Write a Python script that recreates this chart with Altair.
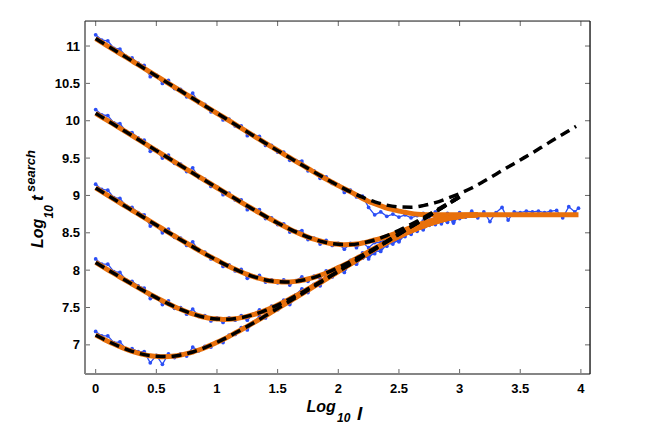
import altair as alt
import pandas as pd

# ---------------- data ----------------
GRID = [0.0, 0.05, 0.1, 0.15, 0.2, 0.25, 0.3, 0.35, 0.4, 0.45,
        0.5, 0.55, 0.6, 0.65, 0.7, 0.75, 0.8, 0.85, 0.9, 0.95,
        1.0, 1.05, 1.1, 1.15, 1.2, 1.25, 1.3, 1.35, 1.4, 1.45,
        1.5, 1.55, 1.6, 1.65, 1.7, 1.75, 1.8, 1.85, 1.9, 1.95,
        2.0, 2.05, 2.1, 2.15, 2.2, 2.25, 2.3, 2.35, 2.4, 2.45,
        2.5, 2.55, 2.6, 2.65, 2.7, 2.75, 2.8, 2.85, 2.9, 2.95,
        3.0, 3.05, 3.1, 3.15, 3.2, 3.25, 3.3, 3.35, 3.4, 3.45,
        3.5, 3.55, 3.6, 3.65, 3.7, 3.75, 3.8, 3.85, 3.9, 3.95]

DGRID = [0.0, 0.1, 0.2, 0.3, 0.4, 0.5, 0.6, 0.7, 0.8, 0.9,
         1.0, 1.1, 1.2, 1.3, 1.4, 1.5, 1.6, 1.7, 1.8, 1.9,
         2.0, 2.1, 2.2, 2.3, 2.4, 2.5, 2.6, 2.7, 2.8, 2.9, 3.0]
DTAIL_X = [3.1, 3.2, 3.3, 3.4, 3.5, 3.6, 3.7, 3.8, 3.9, 3.96]

# simulated data (blue)
blue1 = [11.15, 11.08, 11.07, 10.97, 10.96, 10.86, 10.84, 10.77, 10.74, 10.59,
         10.61, 10.50, 10.54, 10.43, 10.42, 10.32, 10.37, 10.24, 10.22, 10.12,
         10.11, 10.01, 10.02, 9.93, 9.93, 9.80, 9.81, 9.79, 9.67, 9.67,
         9.58, 9.58, 9.47, 9.47, 9.46, 9.33, 9.33, 9.23, 9.25, 9.16,
         9.14, 9.04, 9.07, 8.98, 8.99, 8.84, 8.74, 8.78, 8.72, 8.75,
         8.71, 8.74, 8.70, 8.73, 8.76, 8.71, 8.78, 8.68, 8.76, 8.64,
         8.77, 8.71, 8.79, 8.70, 8.78, 8.65, 8.77, 8.84, 8.67, 8.78,
         8.77, 8.79, 8.78, 8.79, 8.77, 8.79, 8.80, 8.70, 8.85, 8.78, 8.83]
blue1_x = GRID + [3.98]
blue2 = [10.15, 10.08, 10.07, 9.97, 9.96, 9.86, 9.84, 9.77, 9.74, 9.59,
         9.61, 9.50, 9.54, 9.43, 9.42, 9.32, 9.37, 9.24, 9.22, 9.12,
         9.11, 9.01, 9.03, 8.94, 8.94, 8.81, 8.82, 8.81, 8.69, 8.70,
         8.61, 8.62, 8.51, 8.52, 8.53, 8.41, 8.43, 8.35, 8.40, 8.33,
         8.36, 8.28, 8.36, 8.30, 8.37, 8.30, 8.37, 8.37, 8.44, 8.42,
         8.48, 8.50, 8.59, 8.56, 8.66, 8.63, 8.72, 8.64, 8.74, 8.65, 8.75]
blue3 = [9.15, 9.08, 9.07, 8.97, 8.96, 8.86, 8.84, 8.77, 8.74, 8.59,
         8.61, 8.50, 8.55, 8.44, 8.43, 8.33, 8.38, 8.26, 8.24, 8.15,
         8.14, 8.05, 8.07, 7.99, 8.01, 7.89, 7.92, 7.93, 7.84, 7.87,
         7.83, 7.87, 7.80, 7.86, 7.91, 7.85, 7.92, 7.89, 7.99, 7.98,
         8.04, 8.02, 8.13, 8.13, 8.23, 8.15, 8.27, 8.28, 8.36, 8.35,
         8.42, 8.45, 8.54, 8.52, 8.62, 8.60, 8.69, 8.62, 8.72, 8.63, 8.74]
blue4 = [8.15, 8.08, 8.08, 7.98, 7.97, 7.87, 7.85, 7.79, 7.76, 7.62,
         7.64, 7.54, 7.59, 7.49, 7.50, 7.41, 7.48, 7.38, 7.39, 7.32,
         7.36, 7.30, 7.36, 7.33, 7.39, 7.33, 7.41, 7.47, 7.43, 7.52,
         7.51, 7.60, 7.57, 7.67, 7.75, 7.72, 7.81, 7.80, 7.92, 7.92,
         8.00, 8.00, 8.09, 8.08, 8.20, 8.19, 8.22, 8.33, 8.32, 8.42,
         8.39, 8.51, 8.49, 8.58, 8.55, 8.66, 8.62, 8.70, 8.66, 8.74, 8.70]
blue5 = [7.18, 7.12, 7.12, 7.03, 7.04, 6.95, 6.95, 6.91, 6.91, 6.76,
         6.86, 6.74, 6.88, 6.83, 6.88, 6.85, 6.97, 6.92, 6.98, 6.97,
         7.04, 7.03, 7.13, 7.14, 7.23, 7.20, 7.30, 7.38, 7.36, 7.46,
         7.47, 7.56, 7.54, 7.64, 7.73, 7.70, 7.80, 7.79, 7.91, 7.91,
         8.00, 7.97, 8.09, 8.09, 8.16, 8.18, 8.26, 8.25, 8.35, 8.39,
         8.38, 8.48, 8.48, 8.56, 8.54, 8.62, 8.61, 8.67, 8.64, 8.72, 8.69]

# fitted curves (orange)
orange1 = [11.10, 11.05, 11.00, 10.95, 10.90, 10.85, 10.80, 10.75, 10.70, 10.65,
           10.60, 10.55, 10.50, 10.45, 10.40, 10.35, 10.30, 10.25, 10.20, 10.15,
           10.10, 10.05, 10.00, 9.95, 9.90, 9.85, 9.80, 9.75, 9.70, 9.65,
           9.603, 9.554, 9.505, 9.457, 9.409, 9.361, 9.313, 9.267, 9.22, 9.176,
           9.132, 9.09, 9.049, 9.005, 8.96, 8.92, 8.89, 8.86, 8.83, 8.81,
           8.79, 8.775, 8.76, 8.75, 8.745, 8.74, 8.74]
orange1_x = GRID[:56] + [3.98]
orange2 = [10.10, 10.05, 10.00, 9.95, 9.90, 9.85, 9.80, 9.75, 9.70, 9.65,
           9.60, 9.55, 9.50, 9.45, 9.40, 9.35, 9.301, 9.252, 9.202, 9.153,
           9.103, 9.054, 9.005, 8.957, 8.908, 8.86, 8.813, 8.766, 8.72, 8.676,
           8.632, 8.59, 8.549, 8.511, 8.476, 8.443, 8.414, 8.39, 8.369, 8.354,
           8.347, 8.341, 8.343, 8.35, 8.364, 8.382, 8.404, 8.425, 8.45, 8.48,
           8.51, 8.54, 8.57, 8.60, 8.63, 8.655, 8.68, 8.70, 8.715, 8.727, 8.735, 8.74]
orange3 = [9.10, 9.05, 9.00, 8.95, 8.90, 8.851, 8.801, 8.752, 8.702, 8.653,
           8.603, 8.554, 8.505, 8.457, 8.408, 8.36, 8.313, 8.266, 8.22, 8.176,
           8.132, 8.09, 8.049, 8.011, 7.976, 7.943, 7.914, 7.89, 7.869, 7.854,
           7.847, 7.841, 7.843, 7.85, 7.864, 7.882, 7.904, 7.931, 7.962, 7.997,
           8.034, 8.073, 8.114, 8.158, 8.202, 8.248, 8.294, 8.335, 8.375, 8.415,
           8.45, 8.49, 8.525, 8.56, 8.59, 8.62, 8.645, 8.67, 8.69, 8.705, 8.718, 8.74]
orange4 = [8.103, 8.054, 8.005, 7.957, 7.908, 7.86, 7.813, 7.766, 7.72, 7.676,
           7.632, 7.59, 7.549, 7.511, 7.476, 7.443, 7.414, 7.39, 7.369, 7.354,
           7.347, 7.341, 7.343, 7.35, 7.364, 7.382, 7.404, 7.431, 7.462, 7.497,
           7.534, 7.573, 7.614, 7.658, 7.702, 7.748, 7.794, 7.841, 7.889, 7.937,
           7.986, 8.034, 8.083, 8.133, 8.182, 8.232, 8.281, 8.325, 8.37, 8.415,
           8.45, 8.49, 8.525, 8.56, 8.59, 8.62, 8.645, 8.67, 8.69, 8.705, 8.718, 8.74]
orange5 = [7.132, 7.09, 7.049, 7.011, 6.976, 6.943, 6.914, 6.89, 6.869, 6.854,
           6.847, 6.841, 6.843, 6.85, 6.864, 6.882, 6.904, 6.931, 6.962, 6.997,
           7.034, 7.073, 7.114, 7.158, 7.202, 7.248, 7.294, 7.341, 7.389, 7.437,
           7.486, 7.534, 7.583, 7.633, 7.682, 7.732, 7.782, 7.831, 7.881, 7.931,
           7.981, 8.031, 8.08, 8.13, 8.18, 8.23, 8.28, 8.323, 8.368, 8.413,
           8.45, 8.49, 8.525, 8.56, 8.59, 8.62, 8.645, 8.67, 8.69, 8.705, 8.718, 8.74]
orange_tail_x = GRID[:61] + [3.15]

# theory (black dashed)
dash1 = [11.10, 11.00, 10.90, 10.80, 10.70, 10.60, 10.50, 10.40, 10.30, 10.20,
         10.10, 10.00, 9.90, 9.80, 9.70, 9.60, 9.505, 9.409, 9.313, 9.22,
         9.132, 9.049, 8.976, 8.915, 8.87, 8.847, 8.843, 8.864, 8.904, 8.962, 9.025,
         9.10, 9.19, 9.285, 9.38, 9.475, 9.57, 9.67, 9.77, 9.865, 9.925]
dash1_x = DGRID + DTAIL_X
dash2 = [10.10, 10.00, 9.90, 9.80, 9.70, 9.60, 9.50, 9.40, 9.301, 9.202,
         9.103, 9.005, 8.908, 8.813, 8.72, 8.632, 8.549, 8.476, 8.414, 8.369,
         8.347, 8.343, 8.364, 8.404, 8.462, 8.534, 8.614, 8.702, 8.794, 8.889, 8.986]
dash3 = [9.10, 9.00, 8.90, 8.801, 8.702, 8.603, 8.505, 8.408, 8.313, 8.22,
         8.132, 8.049, 7.976, 7.914, 7.869, 7.847, 7.843, 7.864, 7.904, 7.962,
         8.034, 8.114, 8.202, 8.294, 8.389, 8.486, 8.584, 8.683, 8.782, 8.881, 8.98]
dash4 = [8.103, 8.005, 7.908, 7.813, 7.72, 7.632, 7.549, 7.476, 7.414, 7.369,
         7.347, 7.343, 7.364, 7.404, 7.462, 7.534, 7.614, 7.702, 7.794, 7.889,
         7.986, 8.083, 8.182, 8.281, 8.381, 8.48, 8.58, 8.68, 8.78, 8.88, 8.98]
dash5 = [7.132, 7.049, 6.976, 6.914, 6.869, 6.847, 6.843, 6.864, 6.904, 6.962,
         7.034, 7.114, 7.202, 7.294, 7.389, 7.486, 7.583, 7.682, 7.782, 7.881,
         7.981, 8.08, 8.18, 8.28, 8.38, 8.48, 8.58, 8.68, 8.78, 8.88, 8.98]

X_TICKS = [0, 0.5, 1, 1.5, 2, 2.5, 3, 3.5, 4]
X_LABELS = ["0", "0.5", "1", "1.5", "2", "2.5", "3", "3.5", "4"]
Y_TICKS = [7, 7.5, 8, 8.5, 9, 9.5, 10, 10.5, 11]
Y_LABELS = ["7", "7.5", "8", "8.5", "9", "9.5", "10", "10.5", "11"]


def frame(series):
    rows = []
    for name, xs_, ys_ in series:
        for xv, yv in zip(xs_, ys_):
            rows.append({"curve": name, "x": xv, "y": yv})
    return pd.DataFrame(rows)


blue_df = frame([("c1", blue1_x, blue1), ("c2", GRID[:61], blue2),
                 ("c3", GRID[:61], blue3), ("c4", GRID[:61], blue4),
                 ("c5", GRID[:61], blue5)])
orange_df = frame([("c1", orange1_x, orange1), ("c2", orange_tail_x, orange2),
                   ("c3", orange_tail_x, orange3), ("c4", orange_tail_x, orange4),
                   ("c5", orange_tail_x, orange5)])
dash_df = frame([("c1", dash1_x, dash1), ("c2", DGRID, dash2), ("c3", DGRID, dash3),
                 ("c4", DGRID, dash4), ("c5", DGRID, dash5)])
xt_df = pd.DataFrame({"v": X_TICKS, "lab": X_LABELS})
yt_df = pd.DataFrame({"v": Y_TICKS, "lab": Y_LABELS})
one = pd.DataFrame({"a": [0]})

# ---------------- styling ----------------
W, H = 505, 353
BLUE = "#2B4EF5"
ORANGE = "#E8700C"
AXGRAY = "#858585"
TICKC = "#666666"
FONT = "Liberation Sans"

xs = alt.Scale(domain=[-0.088, 4.075], nice=False, zero=False)
ys = alt.Scale(domain=[6.61, 11.335], nice=False, zero=False)


def X(field):
    return alt.X(field, type="quantitative", scale=xs, axis=None)


def Y(field):
    return alt.Y(field, type="quantitative", scale=ys, axis=None)


blue = alt.Chart(blue_df).mark_line(
    color=BLUE, strokeWidth=1.3,
    point=alt.OverlayMarkDef(filled=True, size=14, color=BLUE)
).encode(x=X("x"), y=Y("y"), detail="curve:N")

orange = alt.Chart(orange_df).mark_line(
    color=ORANGE, strokeWidth=5, interpolate="monotone"
).encode(x=X("x"), y=Y("y"), detail="curve:N")

dashed = alt.Chart(dash_df).mark_line(
    color="black", strokeWidth=3.5, strokeDash=[10, 6], interpolate="monotone"
).encode(x=X("x"), y=Y("y"), detail="curve:N")

# box: gray left/bottom, dark top/right
left_dom = alt.Chart(one).mark_rule(color=AXGRAY, strokeWidth=2).encode(
    x=alt.value(0), y=alt.value(0), y2=alt.value(H))
bottom_dom = alt.Chart(one).mark_rule(color=AXGRAY, strokeWidth=2).encode(
    x=alt.value(0), x2=alt.value(W), y=alt.value(H))
top_border = alt.Chart(one).mark_rule(color="#222222", strokeWidth=1.2).encode(
    x=alt.value(0), x2=alt.value(W), y=alt.value(0))
right_border = alt.Chart(one).mark_rule(color="#111111", strokeWidth=1.3).encode(
    x=alt.value(W), y=alt.value(0), y2=alt.value(H))

# inward ticks on all four sides
xt_bottom = alt.Chart(xt_df).mark_rule(color=TICKC, strokeWidth=1).encode(
    x=X("v"), y=alt.value(H), y2=alt.value(H - 5))
xt_top = alt.Chart(xt_df).mark_rule(color=TICKC, strokeWidth=1).encode(
    x=X("v"), y=alt.value(0), y2=alt.value(5))
yt_left = alt.Chart(yt_df).mark_rule(color=TICKC, strokeWidth=1).encode(
    y=Y("v"), x=alt.value(0), x2=alt.value(5))
yt_right = alt.Chart(yt_df).mark_rule(color=TICKC, strokeWidth=1).encode(
    y=Y("v"), x=alt.value(W), x2=alt.value(W - 5))

# tick labels
x_labels = alt.Chart(xt_df).mark_text(
    font=FONT, fontWeight="bold", fontSize=13, color="black",
    align="center", baseline="alphabetic"
).encode(x=X("v"), y=alt.value(H + 19), text="lab:N")
y_labels = alt.Chart(yt_df).mark_text(
    font=FONT, fontWeight="bold", fontSize=13, color="black",
    align="right", baseline="alphabetic", dy=4.6
).encode(y=Y("v"), x=alt.value(-5), text="lab:N")


def label(s, px, py, size, angle=0):
    return alt.Chart(pd.DataFrame({"t": [s]})).mark_text(
        font=FONT, fontStyle="italic", fontWeight="bold", fontSize=size,
        align="left", baseline="alphabetic", angle=angle, color="black"
    ).encode(text="t:N", x=alt.value(px), y=alt.value(py))


titles = [
    label("Log", 221.5, 390.5, 16),
    label("10", 252, 400.5, 12),
    label("l", 272, 398.5, 19),
    label("Log", -42.5, 227, 16, 270),
    label("10", -31.7, 197.5, 12, 270),
    label("t", -42.5, 180, 17, 270),
    label("search", -50, 171, 13, 270),
]

chart = alt.layer(
    blue, orange, dashed, xt_bottom, xt_top, yt_left, yt_right,
    left_dom, bottom_dom, top_border, right_border, x_labels, y_labels, *titles
).properties(
    width=W, height=H,
    autosize=alt.AutoSizeParams(type="none"),
    padding={"left": 77, "top": 13, "right": 55, "bottom": 50},
).configure_view(strokeWidth=0).configure(background="white")

chart.save("out.html", embed_options={"renderer": "svg", "actions": False})
